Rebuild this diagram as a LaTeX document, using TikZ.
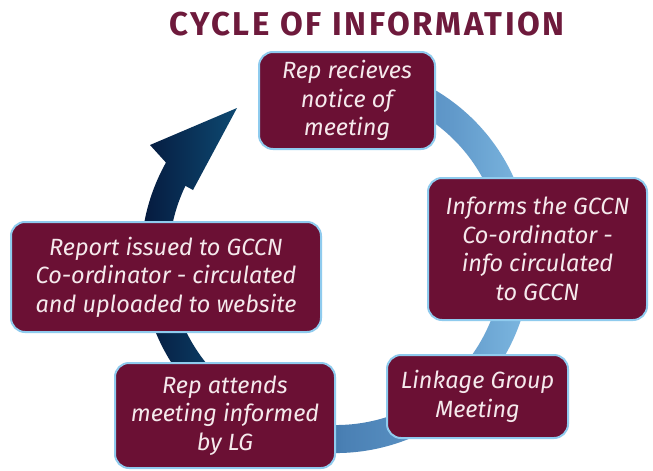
\documentclass[tikz,border=0pt]{standalone}
\usepackage{fontspec}
\setmainfont{Fira Sans}
\definecolor{boxfill}{HTML}{6B1034}
\definecolor{boxedge}{HTML}{8FCBEE}
\definecolor{boxtext}{HTML}{F5E9EC}
\definecolor{titlecol}{HTML}{6E1A3C}
\definecolor{rzero}{HTML}{04163A}
\definecolor{rone}{HTML}{0E4870}
\definecolor{rtwo}{HTML}{4A80B4}
\definecolor{rthree}{HTML}{6199CA}
\definecolor{rfour}{HTML}{86C2E8}
\pgfdeclarehorizontalshading{ringshade}{100bp}{color(0bp)=(rzero); color(25bp)=(rzero); color(37bp)=(rone); color(50bp)=(rtwo); color(63bp)=(rthree); color(75bp)=(rfour); color(100bp)=(rfour)}
\tikzset{
  infobox/.style={draw=boxedge, line width=2pt, fill=boxfill, rounded corners=14pt,
    text=boxtext, align=center, inner sep=0pt,
    font=\fontsize{23.5}{28.5}\selectfont\itshape},
  titletext/.style={font=\fontsize{33}{36}\selectfont\bfseries\addfontfeatures{LetterSpace=8},
    text=titlecol, anchor=base},
}
\begin{document}
\begin{tikzpicture}[x=1pt,y=-1pt]
\useasboundingbox[fill=white] (0,0) rectangle (653,471);
\node[titletext] (title) at (367,35) {CYCLE OF INFORMATION};
% ring with arrow
\path[shading=ringshade]
  ([shift={(255:195)}]336,258) arc[start angle=255, end angle=569.3, radius=195]
  -- (150,145) -- (237,108) -- (193,190)
  -- ([shift={(205.6:167)}]336,258) arc[start angle=565.6, end angle=255, radius=167]
  -- cycle;
% boxes
\node[infobox, minimum width=176pt, minimum height=97pt] (top) at (347,100.5)
  {Rep recieves\\notice of\\meeting};
\node[infobox, minimum width=219pt, minimum height=142pt] (right) at (537.5,249)
  {Informs the GCCN\\Co-ordinator -\\info circulated\\to GCCN};
\node[infobox, minimum width=181pt, minimum height=83pt] (bright) at (477.5,396.5)
  {Linkage Group\\Meeting};
\node[infobox, minimum width=220pt, minimum height=105pt] (bleft) at (225,415.5)
  {Rep attends\\meeting informed\\by LG};
\node[infobox, minimum width=310pt, minimum height=110pt] (left) at (166,277)
  {Report issued to GCCN\\Co-ordinator - circulated\\and uploaded to website};
\end{tikzpicture}
\end{document}
